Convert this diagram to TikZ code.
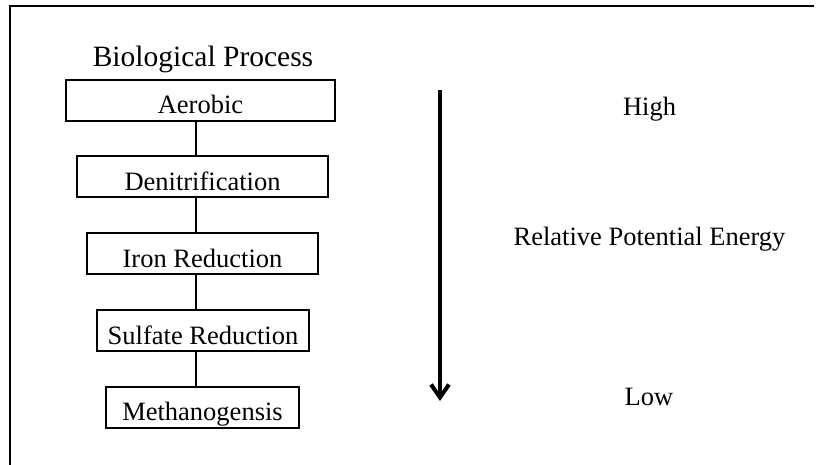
\documentclass[tikz,border=0pt]{standalone}
\usepackage{fontspec}
\setmainfont{Liberation Serif}
\usetikzlibrary{arrows.meta}
\begin{document}
\begin{tikzpicture}[x=1pt,y=-1pt,
  pbox/.style={draw, line width=2pt, inner xsep=0pt, inner ysep=0pt,
    minimum height=41pt, text height=34pt, text depth=7pt,
    font=\fontsize{26.5}{30}\selectfont},
  lbl/.style={anchor=base, inner sep=0pt, font=\fontsize{26.5}{30}\selectfont},
  conn/.style={line width=1.8pt},
  frame/.style={line width=2.2pt}]
\useasboundingbox (0,0) rectangle (819,465);
\draw[frame] (10,466) -- (10,6) -- (814,6);
\node[lbl, font=\fontsize{29.5}{33}\selectfont] (title) at (203,67) {Biological Process};
\node[pbox, minimum width=269pt] (a) at (200.5,100.5) {Aerobic};
\node[pbox, minimum width=251pt] (d) at (202.5,177) {Denitrification};
\node[pbox, minimum width=231pt] (i) at (202.5,253.5) {Iron Reduction};
\node[pbox, minimum width=212pt] (s) at (203,330.5) {Sulfate Reduction};
\node[pbox, minimum width=193pt] (m) at (202.5,407) {Methanogensis};
\coordinate (cx) at (196,0);
\draw[conn] (a.south -| cx) -- (d.north -| cx);
\draw[conn] (d.south -| cx) -- (i.north -| cx);
\draw[conn] (i.south -| cx) -- (s.north -| cx);
\draw[conn] (s.south -| cx) -- (m.north -| cx);
\coordinate (at) at (440,90);
\coordinate (ab) at (440,401);
\draw[line width=4.5pt, -{Straight Barb[length=13pt,width=18pt,line width=4pt]}] (at) -- (ab);
\node[lbl] (high) at (649.5,116) {High};
\node[lbl] (rel) at (649.5,245) {Relative Potential Energy};
\node[lbl] (low) at (649,405) {Low};
\end{tikzpicture}
\end{document}
